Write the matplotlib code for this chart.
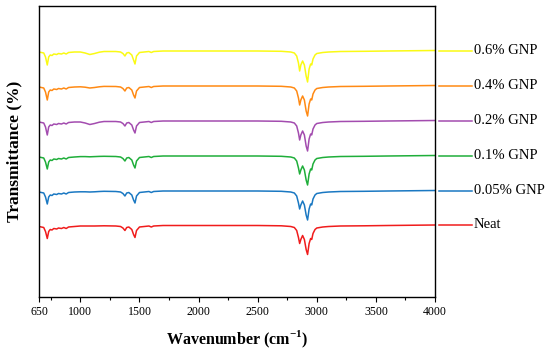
import matplotlib
matplotlib.use("Agg")
import matplotlib.pyplot as plt
import numpy as np

plt.rcParams['font.family'] = ['Liberation Serif', 'DejaVu Serif']
plt.rcParams['mathtext.fontset'] = 'custom'
plt.rcParams['mathtext.rm'] = 'Liberation Serif'
plt.rcParams['mathtext.bf'] = 'Liberation Serif:bold'
plt.rcParams['axes.unicode_minus'] = False

# Shared wavenumber grid (cm^-1)
wavenumber = [650, 690, 705, 720, 732, 745, 760, 775, 800, 815, 840, 860, 880, 900,
              950, 1000, 1040, 1080, 1120, 1160, 1200, 1300, 1340, 1360, 1377, 1392,
              1410, 1435, 1450, 1462, 1475, 1500, 1540, 1580, 1600, 1620, 1700, 2000,
              2500, 2700, 2780, 2810, 2830, 2845, 2855, 2865, 2880, 2895, 2910, 2922,
              2935, 2948, 2957, 2968, 2985, 3000, 3050, 3100, 3200, 3400, 3600, 4000]

# Absorption depth below each trace's baseline (arbitrary units)
depth_neat = [1, 2, 6, 13, 6, 4, 4.5, 3, 3.5, 2.5, 3, 2, 3, 1.5,
              1, 0.5, 0.5, 0.5, 0.5, 0.4, 0.3, 0.5, 1, 2.5, 5, 2,
              1.5, 4, 9, 12, 5, 1.5, 1, 0.5, 1.5, 0.5, 0, 0,
              0, 0.3, 1, 2, 5, 12, 18, 14, 10, 14, 24, 29,
              18, 13, 14, 8, 4, 2.5, 1.5, 1, 0.5, 0.3, 0, -0.5]
depth_005 = [1, 2, 6, 13, 6, 4, 4.5, 3, 3.5, 2.5, 3, 2, 3, 1.5,
             1, 0.8, 0.8, 1, 0.8, 0.5, 0.3, 0.5, 1, 2.5, 5, 2,
             1.5, 4, 9, 12, 5, 1.5, 1, 0.5, 1.5, 0.5, 0, 0,
             0, 0.3, 1, 2, 5, 12, 18, 14, 10, 14, 24, 29,
             18, 13, 14, 8, 4, 2.5, 1.5, 1, 0.5, 0.3, 0, -0.5]
depth_01 = [1, 2, 6, 13, 6, 4, 4.5, 3, 3.5, 2.5, 3, 2, 3, 1.5,
            1, 0.6, 0.6, 0.8, 0.6, 0.4, 0.3, 0.5, 1, 2.5, 5, 2,
            1.5, 4, 9, 12, 5, 1.5, 1, 0.5, 1.5, 0.5, 0, 0,
            0, 0.3, 1, 2, 5, 12, 18, 14, 10, 14, 24, 29,
            18, 13, 14, 8, 4, 2.5, 1.5, 1, 0.5, 0.3, 0, -0.5]
depth_02 = [1, 2, 6, 14, 6, 4, 4.5, 3, 3.5, 2.5, 3, 2, 3, 1.5,
            1, 1, 2, 3.5, 2.5, 1.2, 0.5, 0.5, 1, 2.5, 5, 2,
            1.5, 4, 9, 12, 5, 1.5, 1, 0.5, 1.5, 0.5, 0, 0,
            0, 0.3, 1, 2, 5, 12, 19, 14, 10, 14, 25, 30,
            18, 13, 14, 8, 4, 2.5, 1.5, 1, 0.5, 0.3, 0, -0.5]
depth_04 = [1, 2, 6, 14, 6, 4, 4.5, 3, 3.5, 2.5, 3, 2, 3, 1.5,
            1, 0.8, 1.2, 2, 1.5, 0.8, 0.4, 0.5, 1, 2.5, 5, 2,
            1.5, 4, 9, 12, 5, 1.5, 1, 0.5, 1.5, 0.5, 0, 0,
            0, 0.3, 1, 2, 5, 12, 19, 14, 10, 14, 25, 30,
            18, 13, 14, 8, 4, 2.5, 1.5, 1, 0.5, 0.3, 0, -0.5]
depth_06 = [1, 2, 6, 14, 6, 4, 4.5, 3, 3.5, 2.5, 3, 2, 3, 1.5,
            1, 1, 2, 3.5, 2.5, 1.2, 0.5, 0.5, 1, 2.5, 5, 2,
            1.5, 4, 9, 13, 5, 1.5, 1, 0.5, 1.5, 0.5, 0, 0,
            0, 0.3, 1, 2, 5, 12, 20, 14, 10, 14, 25, 31,
            18, 13, 14, 8, 4, 2.5, 1.5, 1, 0.5, 0.3, 0, -0.5]

labels = ['Neat', '0.05% GNP', '0.1% GNP', '0.2% GNP', '0.4% GNP', '0.6% GNP']
depths = [depth_neat, depth_005, depth_01, depth_02, depth_04, depth_06]
baselines = [71.5, 106, 141, 176, 211, 246]
colors = ['#F01C1C', '#1A78C2', '#1FAE3A', '#A34CAF', '#FF8A14', '#FAFA14']

xticks_major = [650, 1000, 1500, 2000, 2500, 3000, 3500, 4000]
xticks_minor = [750, 1250, 1750, 2250, 2750, 3250, 3750]

fig = plt.figure(figsize=(5.5, 3.52), dpi=100)
ax = fig.add_axes([39/550, 55/352, 396/550, 291/352])

x = np.array(wavenumber)
for lab, d, b, c in zip(labels, depths, baselines, colors):
    y = b - np.array(d)
    ax.plot(x, y, color=c, lw=1.1)
    ax.plot([1.011, 1.093], [y[-1], y[-1]], color=c, lw=1.1,
            transform=ax.get_yaxis_transform(), clip_on=False)
    ax.text(1.098, y[-1], lab, transform=ax.get_yaxis_transform(),
            fontsize=10.5, va='center', ha='left')

ax.set_xlim(650, 4000)
ax.set_ylim(0, 291)
ax.set_xticks(xticks_major)
ax.set_xticks(xticks_minor, minor=True)
ax.set_yticks([])
ax.tick_params(axis='x', which='major', direction='out', length=3.5, width=0.8,
               labelsize=8.6, pad=3)
ax.tick_params(axis='x', which='minor', direction='out', length=2, width=0.8)
for s in ax.spines.values():
    s.set_linewidth(1.0)

ax.set_xlabel(r'Wavenumber (cm$^{\mathbf{-1}}$)', fontsize=11.5, fontweight='bold',
              labelpad=8)
ax.set_ylabel('Transmittance (%)', fontsize=12.5, fontweight='bold', labelpad=12)

fig.savefig('out.png', dpi=100)
